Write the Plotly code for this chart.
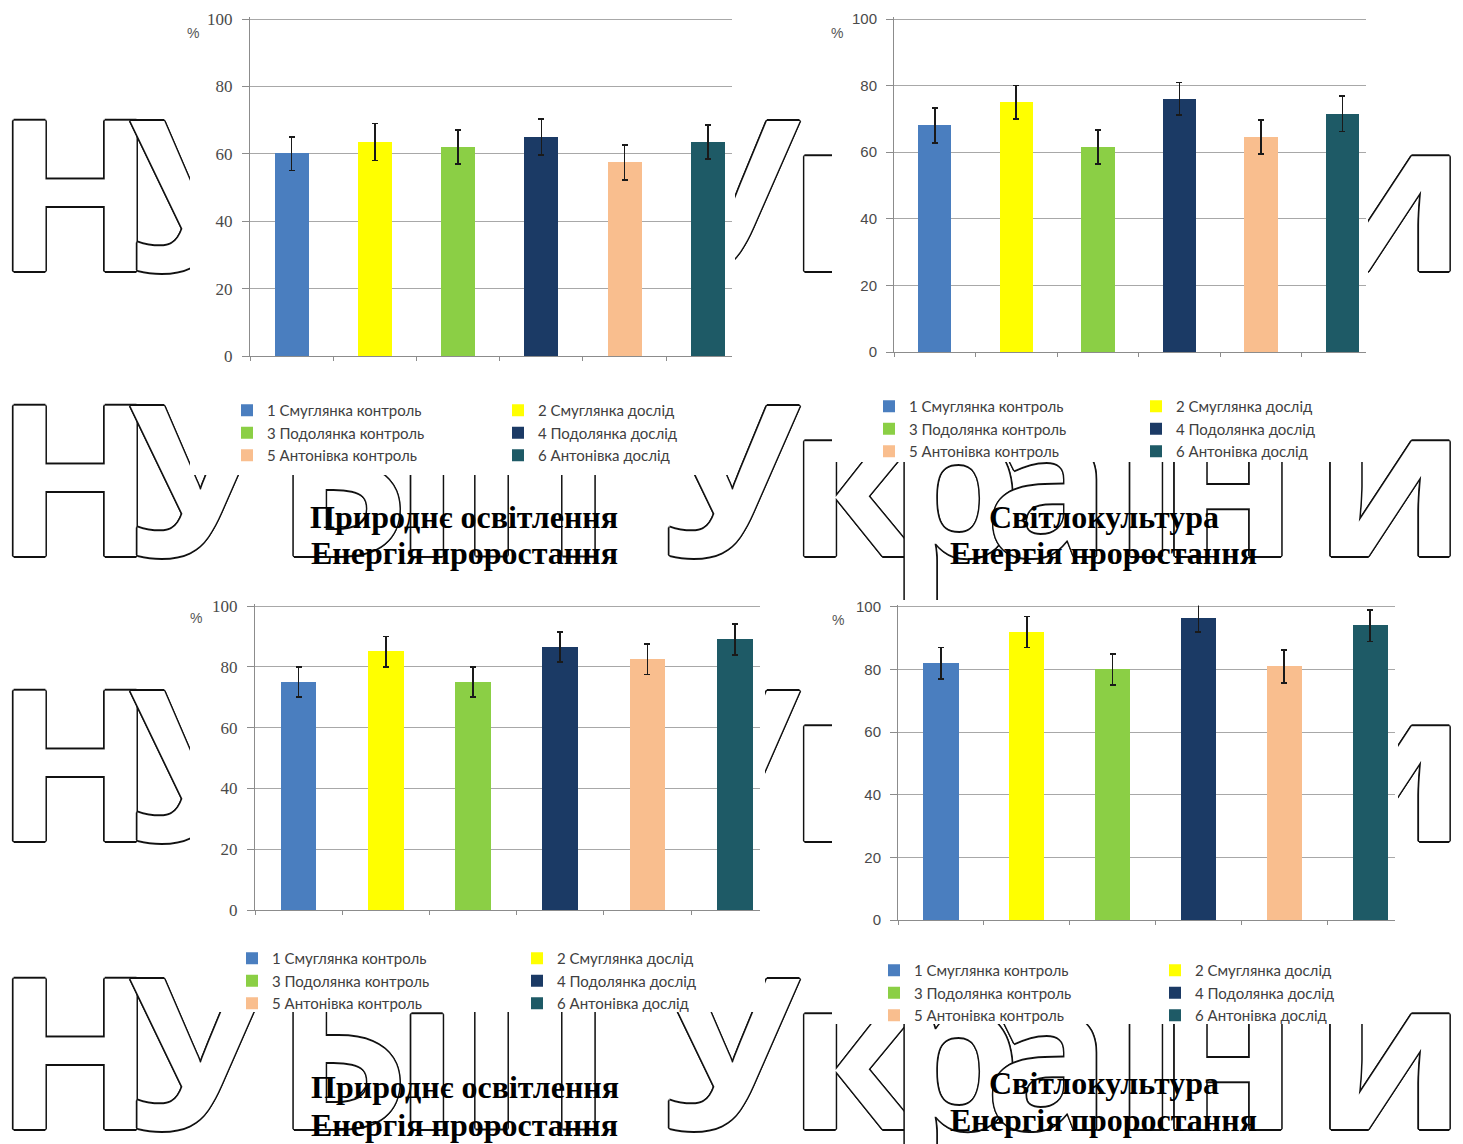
import plotly.graph_objects as go

W, H = 1463, 1144

# ---------------- data ----------------
series_names = ["1 Смуглянка контроль", "2 Смуглянка дослід",
                "3 Подолянка контроль", "4 Подолянка дослід",
                "5 Антонівка контроль", "6 Антонівка дослід"]
bar_colors = ["#4a7ebf", "#ffff00", "#8bcf45", "#1b3a65", "#f9be8e", "#1e5a66"]

natural_top_values = [60, 63.5, 62, 65, 57.5, 63.5]
natural_top_errors = [5, 5.5, 5, 5.3, 5.2, 5]
culture_top_values = [68, 75, 61.5, 76, 64.5, 71.5]
culture_top_errors = [5.2, 5, 5.1, 4.9, 5.1, 5.3]
natural_bottom_values = [75, 85, 75, 86.5, 82.5, 89]
natural_bottom_errors = [5, 5, 5, 5, 5, 5.1]
culture_bottom_values = [82, 92, 80, 96.5, 81, 94]
culture_bottom_errors = [5, 5, 5, 4.5, 5.2, 5]

y_tick_values = [0, 20, 40, 60, 80, 100]
y_max = 100

title_natural = "Природнє освітлення"
title_culture = "Світлокультура"
subtitle = "Енергія проростання"

watermark_letters = ["Н", "У", "Б", "і", "П", "У", "к", "р", "а", "ї", "н", "и"]
watermark_letter_x = [75, 198, 342, 427, 535, 730, 853, 955, 1048, 1146, 1228, 1390]
watermark_baselines = [-14, 272, 557, 842, 1130]

# ---------------- layout of the four charts (pixels) ----------------
charts = [
    dict(values=natural_top_values, errors=natural_top_errors,
         plot=(250, 19, 732, 356), mask=(190, 0, 735, 475),
         legend_x=(267, 538), legend_row=410, pct=(193, 33),
         tickfont=dict(family="Liberation Serif", size=17, color="#4a4a4a"),
         titles=[(title_natural, 464, 517), (subtitle, 465, 553)]),
    dict(values=culture_top_values, errors=culture_top_errors,
         plot=(894, 19, 1366, 352), mask=(832, 12, 1368, 462),
         legend_x=(909, 1176), legend_row=406, pct=(837, 33),
         tickfont=dict(family="Liberation Sans", size=15, color="#4a4a4a"),
         titles=[(title_culture, 1104, 517), (subtitle, 1103, 553)]),
    dict(values=natural_bottom_values, errors=natural_bottom_errors,
         plot=(255, 606, 760, 910), mask=(190, 590, 765, 1012),
         legend_x=(272, 557), legend_row=958, pct=(196, 618),
         tickfont=dict(family="Liberation Serif", size=17, color="#4a4a4a"),
         titles=[(title_natural, 465, 1087), (subtitle, 465, 1125)]),
    dict(values=culture_bottom_values, errors=culture_bottom_errors,
         plot=(898, 607, 1395, 920), mask=(832, 600, 1398, 1024),
         legend_x=(914, 1195), legend_row=970, pct=(838, 620),
         tickfont=dict(family="Liberation Sans", size=15, color="#4a4a4a"),
         titles=[(title_culture, 1104, 1083), (subtitle, 1103, 1120)]),
]


def px_x(v):
    return v / W


def px_y(v):
    return 1 - v / H


fig = go.Figure()

# ---------------- watermark (subplot 1, whole page) ----------------
wm_size = 210
wm_x, wm_y, wm_t = [], [], []
for b in watermark_baselines:
    for ch, x in zip(watermark_letters, watermark_letter_x):
        wm_x.append(x)
        wm_y.append(b - 0.35 * wm_size + 20)
        wm_t.append(ch)
outline = ", ".join(f"{dx}px {dy}px 0 #111" for dx, dy in
                    [(1.6, 0), (-1.6, 0), (0, 1.6), (0, -1.6),
                     (1.1, 1.1), (-1.1, -1.1), (1.1, -1.1), (-1.1, 1.1)])
fig.add_trace(go.Scatter(
    x=wm_x, y=wm_y, text=wm_t, mode="text", textposition="middle center",
    textfont=dict(family="Open Sans", size=wm_size, color="white",
                  weight="bold", shadow=outline),
    hoverinfo="skip", showlegend=False, xaxis="x", yaxis="y", cliponaxis=False))
fig.update_layout(
    xaxis=dict(domain=[0, 1], range=[0, W], visible=False, fixedrange=True,
               anchor="y", automargin=False),
    yaxis=dict(domain=[0, 1], range=[H, 0], visible=False, fixedrange=True,
               anchor="x", automargin=False),
)

# ---------------- white masks (chart images cover the watermark) ----------------
for k, c in enumerate(charts):
    n = k + 2
    x0, y0, x1, y1 = c["mask"]
    fig.add_trace(go.Scatter(
        x=[0, 1, 1, 0, 0], y=[0, 0, 1, 1, 0], mode="lines", fill="toself",
        fillcolor="white", line=dict(width=0, color="white"),
        hoverinfo="skip", showlegend=False, xaxis=f"x{n}", yaxis=f"y{n}"))
    fig.update_layout(**{
        f"xaxis{n}": dict(domain=[px_x(x0), px_x(x1)], range=[0, 1], visible=False,
                          fixedrange=True, anchor=f"y{n}", automargin=False),
        f"yaxis{n}": dict(domain=[px_y(y1), px_y(y0)], range=[0, 1], visible=False,
                          fixedrange=True, anchor=f"x{n}", automargin=False),
    })

# ---------------- charts ----------------
annotations = []
legend_font = dict(family="Lato", size=15, color="#404040")
y_pad = 0.5  # small headroom so the 100 gridline is drawn
for k, c in enumerate(charts):
    n = k + 6
    l, t, r, b = c["plot"]
    t_ext = t - y_pad * (b - t) / y_max
    leg_left = "legend" if k == 0 else f"legend{2 * k + 1}"
    leg_right = f"legend{2 * k + 2}"
    for i, (name, val, err, col) in enumerate(zip(series_names, c["values"], c["errors"], bar_colors)):
        fig.add_trace(go.Bar(
            x=[name], y=[val], name=name, width=0.41,
            marker=dict(color=col, line=dict(width=0)),
            error_y=dict(type="data", array=[err], visible=True,
                         color="#1a1a1a", thickness=1.6, width=3),
            legend=leg_left if i % 2 == 0 else leg_right,
            xaxis=f"x{n}", yaxis=f"y{n}", hoverinfo="skip"))
    fig.update_layout(**{
        f"xaxis{n}": dict(domain=[px_x(l), px_x(r)], range=[-0.5, 5.29], anchor=f"y{n}",
                          automargin=False,
                          type="category", categoryorder="array", categoryarray=series_names,
                          showticklabels=False, showgrid=False, zeroline=False,
                          showline=True, linecolor="#8c8c8c", linewidth=1,
                          ticks="outside", tickson="boundaries", ticklen=4,
                          tickcolor="#8c8c8c", fixedrange=True),
        f"yaxis{n}": dict(domain=[px_y(b), px_y(t_ext)], range=[0, y_max + y_pad], anchor=f"x{n}",
                          automargin=False,
                          tickvals=y_tick_values, showgrid=True, gridcolor="#a8a8a8",
                          gridwidth=1, zeroline=False, showline=True,
                          linecolor="#8c8c8c", ticks="outside", ticklen=7,
                          tickcolor="#8c8c8c", ticklabelstandoff=6,
                          tickfont=c["tickfont"], fixedrange=True),
    })
    # legends
    for leg_id, tx in zip([leg_left, leg_right], c["legend_x"]):
        fig.update_layout(**{leg_id: dict(
            x=px_x(tx - 40), y=px_y(c["legend_row"] - 16),
            xanchor="left", yanchor="top", orientation="v",
            bgcolor="rgba(0,0,0,0)", borderwidth=0, tracegroupgap=0,
            font=legend_font)})
    # percent sign
    annotations.append(dict(text="%", x=px_x(c["pct"][0]), y=px_y(c["pct"][1]),
                            xref="paper", yref="paper", showarrow=False,
                            xanchor="center", yanchor="middle",
                            font=dict(family="Liberation Sans", size=14, color="#555555")))
    # titles
    for txt, cx, cy in c["titles"]:
        annotations.append(dict(text=f"<b>{txt}</b>", x=px_x(cx), y=px_y(cy),
                                xref="paper", yref="paper", showarrow=False,
                                xanchor="center", yanchor="middle",
                                font=dict(family="Liberation Serif", size=32, color="#000000")))

fig.update_layout(
    width=W, height=H, autosize=False,
    margin=dict(l=0, r=0, t=0, b=0, pad=0, autoexpand=False),
    paper_bgcolor="white", plot_bgcolor="white",
    barmode="overlay", bargap=0,
    annotations=annotations,
    showlegend=True,
)

fig.write_html("out.html", config={"displayModeBar": False},
               post_script="document.body.style.margin='0';document.body.style.overflow='hidden';")
